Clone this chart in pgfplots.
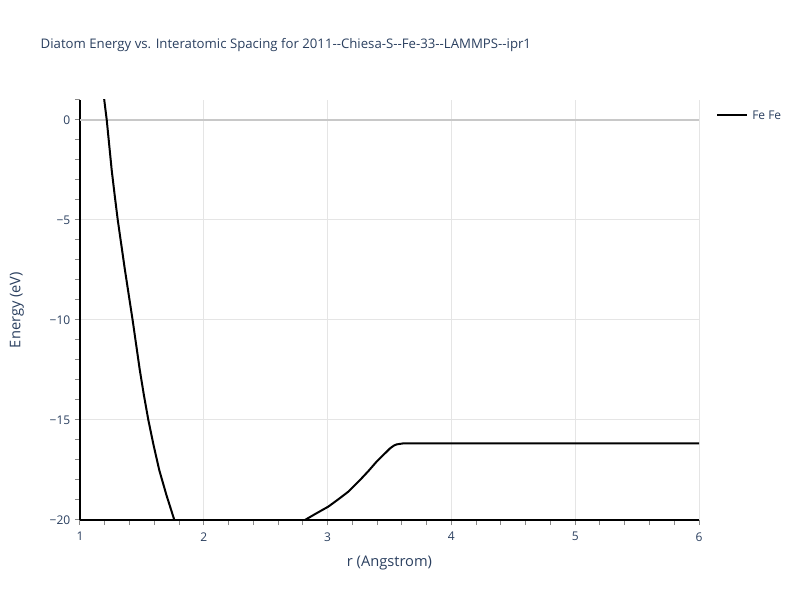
\documentclass[border=0pt]{standalone}
\usepackage{fontspec}
\setmainfont{Open Sans}
\usepackage{pgfplots}
\pgfplotsset{compat=1.18}
\definecolor{plotlytext}{HTML}{2A3F5F}
\definecolor{gridc}{HTML}{E5E5E5}
\definecolor{zeroc}{HTML}{C8C8C8}
\definecolor{tickc}{HTML}{888888}

\begin{document}
\begin{tikzpicture}[x=0.75pt,y=0.75pt]
% canvas 800x600 px, plot area starts at (80,520) px
\useasboundingbox (-80,-80) rectangle (720,520);

\begin{axis}[
  at={(0,0)}, anchor=south west,
  scale only axis,
  width=464.25pt, height=315pt,
  xmin=1, xmax=6, ymin=-20, ymax=1,
  xtick={1,2,...,6},
  ytick={-20,-15,-10,-5,0},
  yticklabels={−20,−15,−10,−5,0},
  minor xtick={1.2,1.4,...,5.9},
  minor ytick={-19,-18,...,1},
  axis x line*=bottom, axis y line*=left,
  axis line style={black, line width=0.9pt, -},
  tick align=outside,
  major tick length=5pt*0.75, minor tick length=5pt*0.75,
  every tick/.style={tickc, line width=0.75pt},
  xmajorgrids, ymajorgrids,
  major grid style={gridc, line width=0.75pt},
  ticklabel style={font=\fontsize{9}{10}\selectfont, text=plotlytext},
  /pgf/number format/assume math mode=true,
  xticklabel style={yshift=-2pt},
  clip=true,
]
\addplot[zeroc, line width=0.9pt, forget plot] coordinates {(1,0) (6,0)};
\addplot[black, line width=1.5pt] coordinates {
  (1.192,1.5) (1.196,1.0) (1.216,0.0) (1.236,-1.25) (1.256,-2.5)
  (1.280,-3.75) (1.305,-5.0) (1.334,-6.25) (1.363,-7.5) (1.394,-8.75)
  (1.425,-10.0) (1.454,-11.25) (1.483,-12.5) (1.516,-13.75) (1.552,-15.0)
  (1.594,-16.25) (1.640,-17.5) (1.698,-18.75) (1.762,-20.0) (1.80,-20.8)
  (1.95,-22.0) (2.3,-23.0) (2.6,-21.5) (2.75,-20.4) (2.817,-20.0)
  (2.90,-19.7) (3.006,-19.33) (3.09,-18.95) (3.168,-18.58) (3.262,-18.0)
  (3.33,-17.55) (3.396,-17.08) (3.45,-16.75) (3.504,-16.42) (3.535,-16.28)
  (3.558,-16.22) (3.61,-16.17) (4.0,-16.17) (5.0,-16.17) (6.0,-16.17)
};
\end{axis}

% title
\node[anchor=west, text=plotlytext, font=\fontsize{9.9}{11}\selectfont] at (-44,475) {Diatom Energy vs. Interatomic Spacing for 2011-{}-Chiesa-S-{}-Fe-33-{}-LAMMPS-{}-ipr1};
% axis titles
\node[text=plotlytext, font=\fontsize{11}{12}\selectfont] at (309.5,-43) {r (Angstrom)};
\node[text=plotlytext, font=\fontsize{11}{12}\selectfont, rotate=90] at (-63,210) {Energy (eV)};
% legend
\draw[black, line width=1.5pt] (637,405) -- (667,405);
\node[anchor=west, text=plotlytext, font=\fontsize{9}{10}\selectfont, inner sep=0pt] at (672,405) {Fe Fe};
\end{tikzpicture}
\end{document}
